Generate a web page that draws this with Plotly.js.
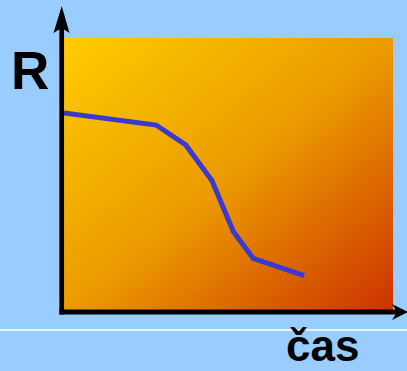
<!DOCTYPE html>
<html>
<head>
<meta charset="utf-8">
<script src="https://cdn.plot.ly/plotly-3.0.1.min.js"></script>
<style>html,body{margin:0;padding:0;background:#99ccff;}#chart{width:407px;height:371px;}</style>
</head>
<body>
<div id="chart"></div>
<script>
// Data (time vs. R)
var casValues = [0, 2.8, 3.7, 4.5, 5.15, 5.75, 7.3];
var rValues = [7.24, 6.8, 6.07, 4.75, 2.88, 1.9, 1.26];
var yTitle = "R";
var xTitle = "čas";

var W = 407, H = 371;
var M = {l: 64, r: 14, t: 38, b: 61};
var PW = W - M.l - M.r, PH = H - M.t - M.b;
function px(x) { return (x - M.l) / PW; }
function py(y) { return (H - M.b - y) / PH; }
function pathPx(pts) {
  return pts.map(function (p, i) { return (i ? 'L' : 'M') + px(p[0]) + ',' + py(p[1]); }).join(' ') + ' Z';
}

var svg = '<svg xmlns="http://www.w3.org/2000/svg" width="329" height="272" preserveAspectRatio="none">' +
  '<defs><linearGradient id="g" x1="0" y1="0" x2="1" y2="1">' +
  '<stop offset="0" stop-color="#ffcc00"/><stop offset="0.5" stop-color="#eb9c00"/><stop offset="1" stop-color="#cc3300"/>' +
  '</linearGradient></defs><rect width="329" height="272" fill="url(#g)"/></svg>';

var trace = {
  x: casValues, y: rValues, type: 'scatter', mode: 'lines',
  line: {color: '#3a3acc', width: 5},
  hoverinfo: 'skip'
};

var layout = {
  width: W, height: H,
  margin: M,
  paper_bgcolor: '#99ccff',
  plot_bgcolor: 'rgba(0,0,0,0)',
  showlegend: false,
  xaxis: {range: [0, 10], visible: false, fixedrange: true},
  yaxis: {range: [0, 10], visible: false, fixedrange: true},
  images: [{
    source: 'data:image/svg+xml;charset=utf-8,' + encodeURIComponent(svg),
    xref: 'paper', yref: 'paper', x: 0, y: 1, sizex: 1, sizey: 1,
    xanchor: 'left', yanchor: 'top', sizing: 'stretch', layer: 'below'
  }],
  shapes: [
    {type: 'line', xref: 'paper', yref: 'paper', x0: px(0), x1: px(W), y0: py(330), y1: py(330),
     line: {color: '#ffffff', width: 1.5}},
    {type: 'line', xref: 'paper', yref: 'paper', x0: px(61.7), x1: px(61.7), y0: py(314.5), y1: py(26),
     line: {color: '#000000', width: 4.7}},
    {type: 'line', xref: 'paper', yref: 'paper', x0: px(59.5), x1: px(398), y0: py(312), y1: py(312),
     line: {color: '#000000', width: 5}},
    {type: 'path', xref: 'paper', yref: 'paper', path: pathPx([[61.7, 6], [69.5, 33], [61.7, 28], [53.5, 33]]),
     fillcolor: '#000000', line: {width: 0}},
    {type: 'path', xref: 'paper', yref: 'paper', path: pathPx([[408, 312], [392, 320], [397, 312], [392, 304]]),
     fillcolor: '#000000', line: {width: 0}}
  ],
  annotations: [
    {text: '<b>' + yTitle + '</b>', xref: 'paper', yref: 'paper', x: px(30), y: py(70),
     xanchor: 'center', yanchor: 'middle', showarrow: false,
     font: {family: 'Liberation Sans, Arial, sans-serif', size: 53, color: '#000000'}},
    {text: '<b>' + xTitle + '</b>', xref: 'paper', yref: 'paper', x: px(322), y: py(370.5),
     xanchor: 'center', yanchor: 'bottom', showarrow: false, borderpad: 0,
     font: {family: 'Liberation Sans, Arial, sans-serif', size: 44, color: '#000000'}}
  ]
};

Plotly.newPlot('chart', [trace], layout, {staticPlot: true, displayModeBar: false});
</script>
</body>
</html>
